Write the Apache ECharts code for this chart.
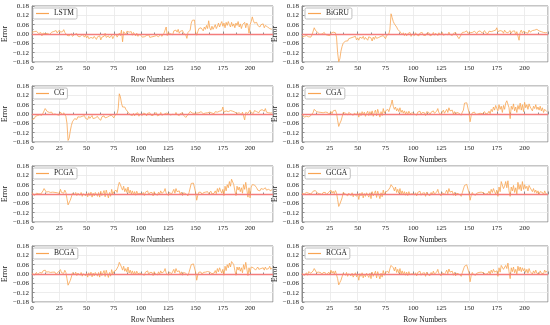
<!DOCTYPE html>
<html><head><meta charset="utf-8">
<script src="https://cdn.jsdelivr.net/npm/echarts@6/dist/echarts.min.js"></script>
<style>html,body{margin:0;padding:0;background:#fff}#c{width:550px;height:325px}</style>
</head><body><div id="c"></div>
<script>
const modelNames = ['LSTM','BiGRU','CG','CGA','PCGA','GCGA','BCGA','RCGA'];
const yTicks = [-0.18,-0.12,-0.06,0.00,0.06,0.12,0.18];
const xTicks = [0,25,50,75,100,125,150,175,200];

const LSTM = [.012,.008,.015,.005,.018,.010,.003,.014,.009,-.012,
.006,.011,.002,.009,.004,.013,-.003,.008,.012,.005,
.016,.010,.022,.007,.018,.025,.012,.020,.015,.028,
.010,.005,-.008,.004,-.012,-.005,.002,-.015,-.008,-.003,
-.010,.003,-.014,-.006,-.018,-.009,-.002,-.013,-.020,-.007,
-.025,-.012,-.030,-.018,-.022,-.010,-.028,-.015,-.020,-.035,
-.018,-.025,-.012,-.038,-.020,-.028,-.015,.005,-.022,-.030,
-.012,-.025,-.018,-.008,-.030,-.015,-.010,.000,-.020,-.012,
.005,-.010,.025,-.050,.015,.020,-.005,.018,.008,.012,
.000,.015,-.008,.010,.020,-.012,.005,-.015,-.008,-.002,
-.012,-.020,-.008,-.018,-.025,-.010,-.015,-.005,-.022,-.012,
-.018,-.008,-.015,-.025,-.010,-.005,-.018,-.012,-.002,-.015,
-.008,.005,.012,.045,-.010,.008,.015,.002,.010,-.005,
.020,.008,.025,.012,.030,.005,.018,.010,.022,.004,
.012,-.005,-.028,.010,.015,.025,.070,.088,.082,.090,
.012,-.008,.015,.035,.025,.040,.030,.020,.045,.030,
.055,.035,.085,.040,.025,.050,.030,.045,.060,.035,
.050,.070,.045,.065,.080,.050,.070,.040,.075,.055,
.080,.060,.045,.075,.050,.065,.040,.070,.055,.080,
.045,.065,.035,.060,.050,.075,.040,.070,.055,.005,
.060,.080,.110,.085,.070,.060,.075,.055,.065,.045,
.060,.050,.065,.040,.055,.060,.045,.050,.035,.040,
.030];

const BiGRU = [-.020,-.030,-.015,-.025,-.010,-.022,-.018,-.008,-.020,-.005,
.005,.040,.025,.015,.010,.005,-.002,.008,.000,-.005,
.010,-.003,.005,-.008,.002,-.010,.005,-.002,.012,.000,
.008,-.020,-.120,-.178,-.160,-.110,-.080,-.060,-.050,-.045,
-.040,-.045,-.030,-.042,-.025,-.035,-.020,-.030,-.015,-.038,
-.025,-.040,-.020,-.032,-.028,-.015,-.035,-.022,-.030,-.040,
-.018,-.030,-.025,-.045,-.020,-.035,-.015,-.028,-.038,-.022,
-.030,-.015,-.025,-.010,-.020,-.030,-.010,-.015,.000,.030,
.130,.105,.080,.065,.055,.045,.030,.040,.015,.020,
-.005,.008,-.010,.005,-.012,.002,-.008,.010,-.015,.000,
.005,-.010,.008,-.005,.003,-.012,.006,-.004,.010,-.008,
.002,-.010,.004,-.006,.008,-.012,.000,-.005,.010,-.008,
.005,-.003,-.010,.008,-.005,.002,.010,-.008,.004,-.002,
.008,-.005,.012,-.003,.006,-.010,.004,-.006,.010,-.008,
-.012,-.030,-.018,-.005,.010,.018,.012,.008,.020,.005,
.015,.008,.020,.010,.005,.018,.012,.002,.015,.008,
.020,.010,.005,.015,.022,.008,.012,.002,.018,.010,
.015,.005,.020,.012,.025,.040,.015,.008,.022,.010,
.018,.005,.025,.012,.020,.008,.015,.022,.005,.018,
.010,.020,-.005,.015,.008,-.040,.012,.025,.005,.018,
.030,.010,.020,.005,.025,.012,.018,.022,.010,.025,
.015,.030,.035,.020,.028,.015,.022,.010,.012,.008,
.010];

const CG = [-.035,-.025,-.030,-.015,-.022,-.010,-.018,-.005,-.015,-.008,
.005,.020,.035,.025,.015,.008,.010,.002,.012,-.003,
.008,.000,.010,-.005,.005,-.008,.012,.002,-.005,.008,
.003,-.015,-.060,-.170,-.155,-.110,-.075,-.050,-.040,-.030,
-.025,-.035,-.018,-.028,-.020,-.030,-.015,-.025,-.010,-.028,
-.020,-.035,-.015,-.028,-.022,-.010,-.030,-.018,-.025,-.035,
-.015,-.028,-.020,-.040,-.018,-.030,-.012,-.025,-.035,-.020,
-.028,-.012,-.022,-.008,-.018,-.025,-.008,-.012,.002,.035,
.130,.110,.070,.045,.040,.045,.030,.035,.012,.018,
-.005,.006,-.010,.004,-.012,.002,-.006,.008,-.014,.000,
.004,-.010,.006,-.006,.002,-.012,.005,-.004,.008,-.008,
.002,-.010,.003,-.005,.008,-.012,.000,-.006,.010,-.008,
.004,-.002,-.010,.006,-.004,.002,.010,-.006,.004,-.002,
.006,-.004,.010,-.003,.005,-.010,.003,-.006,.008,-.008,
-.010,-.022,-.015,-.004,.008,.016,.010,.006,.018,.004,
.012,.006,.018,.008,.004,.015,.010,.002,.012,.006,
.018,.008,.004,.012,.020,.006,.010,.002,.015,.008,
.012,.004,.018,.010,.022,.045,.012,.006,.020,.008,
.015,.004,.022,.010,.018,.006,.012,.020,.004,.015,
.008,.018,-.005,.012,.006,-.038,.010,.022,.004,.015,
.025,.008,.018,.004,.022,.010,.015,.020,.008,.022,
.012,.028,.032,.018,.035,.012,.020,.008,.010,.006,
.008];

const CGA = [.000,-.010,-.020,-.030,-.015,-.012,-.018,-.008,-.010,.000,
.010,.030,.025,.015,.008,.012,.002,.010,-.002,.008,
.005,.012,.000,.010,-.003,.008,.015,.002,.020,.010,
.025,.005,-.040,-.080,-.060,-.045,-.020,.010,.020,.005,
.015,-.005,.010,.020,.000,.012,-.008,.005,.015,-.005,
.010,-.020,.008,-.010,.015,-.005,.012,-.015,.005,.018,
-.010,.015,-.008,.020,-.015,.010,.025,-.012,.030,.005,
-.020,.015,-.010,.035,.005,.020,.010,.030,.015,.040,
.060,.090,.050,.030,.045,.020,.035,.015,.040,.010,
.025,.005,.020,.000,.015,-.005,.018,.002,.012,.008,
.015,.000,.010,-.008,.012,.005,.018,-.003,.010,.002,
.008,-.010,.015,.003,.010,-.005,.012,.000,.020,.005,
.010,.018,.035,.008,.015,-.005,.012,.025,.005,.015,
.030,.010,.040,.020,.008,.025,.000,.015,-.005,.010,
.020,.005,.015,-.008,.012,.025,.070,.075,.072,.068,
.010,-.050,-.010,.008,.002,.012,-.003,.008,.000,.010,
.005,.012,.002,.008,.015,.000,.010,.005,.018,.002,
.030,.015,.045,.025,.055,.035,.020,.060,.030,.050,
.010,.055,.030,.070,.085,.095,.040,-.030,.050,.030,
.065,.020,.045,.010,.055,.030,.070,.025,.060,.015,
.075,.040,.060,.030,.065,.045,.055,.020,.050,.035,
.060,.030,.045,.025,.050,.020,.040,.010,.030,.020,
.015];

const PCGA = [.010,.000,-.010,-.008,.005,-.005,.002,.010,.000,.008,
.020,.035,.025,.012,.008,.015,.005,.010,.000,.012,
.006,.010,-.002,.008,.012,.004,.030,.010,.020,.005,
.025,.010,-.030,-.070,-.060,-.040,-.020,.005,.015,-.005,
.010,-.010,.005,.015,-.008,.010,-.015,.002,.010,-.012,
.005,-.018,.008,-.010,.012,-.020,.005,-.012,.010,.015,
-.015,.010,-.020,.018,-.010,.005,.022,-.018,.025,.000,
-.025,.010,-.015,.030,.000,.015,.005,.025,.010,.050,
.075,.060,.040,.025,.050,.015,.035,.010,.045,.005,
.025,.000,.020,-.005,.015,-.008,.018,.000,.010,.005,
.015,-.003,.010,-.010,.012,.002,.020,-.005,.008,.000,
.010,-.012,.015,.000,.010,-.008,.012,-.002,.020,.004,
.010,.015,.035,.005,.012,-.010,.010,.020,.000,.012,
.030,.005,.035,.015,.005,.020,-.005,.012,-.010,.008,
.018,.002,.012,-.012,.010,.020,.068,.070,.070,.065,
.010,-.040,-.008,.012,.000,.010,-.005,.008,-.002,.012,
.005,.015,.002,.010,.018,.000,.012,.005,.020,.002,
.035,.012,.040,.020,.005,.030,-.010,.050,.020,.060,
.040,.080,.050,.095,.100,.060,.020,-.010,.050,.025,
.045,.015,.040,.005,.060,.030,.075,.070,-.020,.040,
-.025,.045,.060,.060,.058,.060,.040,.025,.030,.020,
.035,.025,.030,.020,.040,.025,.035,.030,.040,.020,
.030];

const GCGA = [.005,-.005,.000,-.008,.010,-.002,.005,.012,.000,.008,
.018,.030,.022,.010,.005,.012,.002,.008,-.003,.010,
.004,.010,-.005,.006,.012,.000,.025,.005,.018,.002,
.022,.008,-.035,-.080,-.065,-.045,-.025,.010,.015,.000,
.012,-.012,.005,.015,-.010,.008,-.018,.000,.010,-.015,
.002,-.035,.005,-.012,.010,-.025,.003,-.015,.008,.012,
-.020,.008,-.030,.015,-.012,.004,.020,-.022,.018,-.005,
-.030,.008,-.018,.025,-.005,.012,.002,.020,.008,.040,
.060,.070,.040,.020,.045,.010,.030,.005,.035,.000,
.020,-.005,.015,-.008,.012,-.010,.015,-.003,.008,.002,
.012,-.005,.008,-.012,.010,.000,.018,-.008,.005,-.002,
.008,-.015,.012,-.003,.008,-.010,.010,-.005,.018,.000,
.008,.012,.030,.002,.010,-.012,.008,.018,-.003,.010,
.025,.002,.035,.012,.002,.018,-.008,.010,-.012,.005,
.015,.000,.010,-.015,.008,.018,.055,.065,.062,.060,
.008,-.040,-.010,.010,-.003,.008,-.008,.005,-.005,.010,
.002,.012,.000,.008,.015,-.002,.010,.003,.018,.000,
.030,.010,.035,.015,.000,.025,-.015,.045,.015,.080,
.085,.035,.050,.080,.040,.085,.020,-.015,.045,.020,
.055,.010,.040,.000,.075,.030,.060,.020,.080,.030,
.060,.035,.050,.020,.055,.040,.045,.015,.035,.010,
.025,.005,.020,.000,.015,.005,.010,-.005,.020,.002,
.000];

const BCGA = [.008,-.002,-.008,.000,.010,-.005,.004,.010,-.002,.006,
.020,.032,.025,.012,.006,.014,.004,.010,-.002,.012,
.006,.012,-.003,.008,.014,.002,.028,.008,.020,.004,
.024,.010,-.030,-.072,-.060,-.042,-.020,.008,.016,-.004,
.012,-.010,.006,.016,-.008,.010,-.014,.002,.012,-.012,
.004,-.020,.008,-.010,.012,-.018,.006,-.012,.010,.014,
-.014,.010,-.020,.018,-.010,.006,.022,-.016,.024,.000,
-.022,.010,-.014,.028,.000,.016,.006,.024,.012,.050,
.075,.065,.045,.025,.050,.018,.035,.012,.045,.006,
.025,.002,.020,-.004,.016,-.006,.018,.002,.012,.006,
.015,-.002,.010,-.008,.012,.004,.020,-.004,.010,.002,
.010,-.010,.015,.002,.012,-.006,.014,-.002,.020,.006,
.012,.016,.035,.006,.014,-.008,.012,.022,.002,.014,
.030,.006,.035,.016,.006,.020,-.004,.014,-.008,.010,
.018,.004,.014,-.010,.012,.022,.060,.065,.065,.062,
.012,-.040,-.006,.012,.002,.012,-.004,.010,.000,.012,
.006,.016,.004,.012,.020,.002,.014,.006,.022,.004,
.035,.014,.040,.022,.006,.030,-.008,.050,.022,.060,
.040,.070,.045,.080,.085,.060,.022,-.008,.045,.025,
.045,.018,.040,.008,.060,.030,.075,.065,-.010,.040,
.010,.045,.055,.040,.030,.025,.035,.045,.030,.025,
.035,.028,.040,.025,.045,.030,.040,.035,.050,.030,
.040];

const RCGA = [.005,-.005,-.010,.000,.008,-.008,.015,.020,.005,.010,
.020,.035,.025,.010,.005,.012,.000,.008,-.005,.010,
.002,.008,-.006,.005,.012,-.002,.025,.005,.018,.000,
.020,.008,-.030,-.070,-.055,-.040,-.030,.005,.010,-.008,
.010,-.015,.002,.012,-.012,.005,-.020,-.005,.008,-.018,
-.002,-.040,.002,-.015,.008,-.025,.000,-.018,.005,.010,
-.022,.005,-.030,.012,-.015,.000,.018,-.025,.015,-.008,
-.032,.005,-.020,.022,-.008,.010,.000,.018,.005,.035,
.055,.065,.040,.020,.045,.010,.030,.005,.035,.000,
.020,-.005,.015,-.008,.012,-.010,.015,-.003,.008,.002,
.012,-.005,.008,-.012,.010,.000,.018,-.008,.005,-.002,
.008,-.015,.012,-.003,.008,-.010,.010,-.005,.018,.000,
.008,.012,.030,.002,.010,-.012,.008,.018,-.003,.010,
.025,.002,.032,.012,.002,.018,-.008,.010,-.012,.005,
.015,.000,.010,-.015,.008,.018,.050,.060,.058,.055,
.008,-.050,-.010,.010,-.003,.008,-.008,.005,-.005,.010,
.002,.012,.000,.008,.015,-.002,.010,.003,.018,.000,
.025,.008,.030,.012,.000,.020,-.015,.040,.012,.055,
.060,.030,.040,.055,.035,.070,.015,-.030,.040,.015,
.045,.008,.030,.000,.050,.020,.045,.015,.040,.020,
.035,.010,.030,.005,.035,.015,.025,.000,.020,.005,
.025,.005,.015,.000,.020,.005,.015,.002,.025,.010,
.020];

const seriesValues = [LSTM, BiGRU, CG, CGA, PCGA, GCGA, BCGA, RCGA];

const FONT = '"Liberation Serif","DejaVu Serif",serif';
const LINE_COLOR = '#f8a452';
const ZERO_COLOR = '#f47c7c';
const FRAME = '#8c8c8c';

const grids = [], xAxes = [], yAxes = [], series = [], legends = [];
modelNames.forEach((name, i) => {
  const col = i % 2, row = Math.floor(i / 2);
  const left = col === 0 ? 30 : 302;
  const width = col === 0 ? 243 : 246;
  const top = 6 + row * 80;
  grids.push({left, top, width, height: 56, show: true, borderColor: FRAME, borderWidth: 1, backgroundColor: 'transparent'});
  xAxes.push({
    type: 'value', gridIndex: i, min: 0, max: 221, interval: 25,
    name: 'Row Numbers', nameLocation: 'middle', nameGap: 14,
    nameTextStyle: {fontFamily: FONT, fontSize: 7.5, color: '#222'},
    axisLine: {show: true, lineStyle: {color: FRAME, width: 1}},
    axisTick: {show: true, inside: true, length: 2.5, lineStyle: {color: FRAME}},
    minorTick: {show: true, splitNumber: 2, length: 1.5, lineStyle: {color: FRAME}},
    axisLabel: {fontFamily: FONT, fontSize: 7, color: '#222', margin: 3,
      customValues: xTicks, formatter: v => String(v)},
    splitLine: {show: true, lineStyle: {color: '#e8e8e8', width: 0.8}}
  });
  yAxes.push({
    type: 'value', gridIndex: i, min: -0.18, max: 0.18, interval: 0.06,
    name: 'Error', nameLocation: 'middle', nameGap: 23,
    nameTextStyle: {fontFamily: FONT, fontSize: 7.5, color: '#222'},
    axisLine: {show: true, lineStyle: {color: FRAME, width: 1}},
    axisTick: {show: true, inside: true, length: 2.5, lineStyle: {color: FRAME}},
    minorTick: {show: true, splitNumber: 2, length: 1.5, lineStyle: {color: FRAME}},
    axisLabel: {fontFamily: FONT, fontSize: 7, color: '#222', margin: 3,
      formatter: v => v.toFixed(2).replace('-', '\u2212')},
    splitLine: {show: true, lineStyle: {color: '#e8e8e8', width: 0.8}}
  });
  series.push({
    name, type: 'line', xAxisIndex: i, yAxisIndex: i,
    data: seriesValues[i].map((v, k) => [k, v]),
    symbol: 'none', silent: true, animation: false,
    lineStyle: {color: LINE_COLOR, width: 0.8}, itemStyle: {color: LINE_COLOR},
    markLine: {silent: true, symbol: 'none', animation: false, label: {show: false},
      lineStyle: {color: ZERO_COLOR, width: 1.3, type: 'solid'}, data: [{yAxis: 0}]},
    z: 3
  });
  legends.push({
    data: [name], left: left + 3, top: top + 2, orient: 'horizontal',
    icon: 'rect',
    backgroundColor: '#fff', borderColor: '#b0b0b0', borderWidth: 0.8, borderRadius: 1.5,
    padding: [1, 3, 1, 3], itemWidth: 13, itemHeight: 1.2,
    textStyle: {fontFamily: FONT, fontSize: 7.5, color: '#222', lineHeight: 9}
  });
});

const chart = echarts.init(document.getElementById('c'), null, {renderer: 'canvas'});
chart.setOption({
  animation: false, backgroundColor: '#fff',
  grid: grids, xAxis: xAxes, yAxis: yAxes, series, legend: legends
});
</script></body></html>
